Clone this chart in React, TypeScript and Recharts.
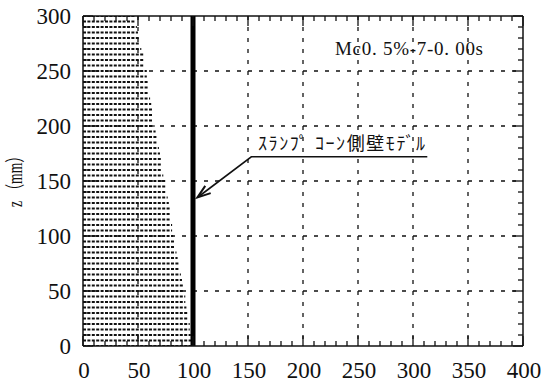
import { ComposedChart, Line, XAxis, YAxis, CartesianGrid, ReferenceLine } from 'recharts'

// 粒子の各行：高さ z (mm) と、その行の右端 x (mm)
const rowZ = [
  0, 5, 10, 15, 20, 25, 30, 35, 40, 45, 50, 55, 60, 65, 70, 75, 80, 85, 90, 95,
  100, 105, 110, 115, 120, 125, 130, 135, 140, 145, 150, 155, 160, 165, 170, 175, 180, 185, 190, 195,
  200, 205, 210, 215, 220, 225, 230, 235, 240, 245, 250, 255, 260, 265, 270, 275, 280, 285, 290, 295,
  300,
]
const rowEdge = [
  99, 99, 98, 97, 97, 96, 95, 94, 93, 93, 91, 91, 90, 89, 88, 88, 86, 85, 84, 84,
  82, 81, 81, 80, 79, 79, 78, 77, 76, 76, 75, 73, 72, 72, 71, 70, 69, 68, 67, 66,
  65, 64, 64, 63, 62, 61, 60, 59, 59, 58, 58, 56, 56, 55, 53, 52, 51, 50, 49, 47,
  47,
]

// スランプコーン側壁モデル（x = 100 の鉛直壁）
const wallX = [100, 100]
const wallZ = [0, 300]

// 注記の引出し線
const leaderX = [313, 153, 104]
const leaderZ = [172, 172, 135]

// 目盛（10 mm ごとの細目盛、50 mm ごとにラベル）
const xTicks = [
  0, 10, 20, 30, 40, 50, 60, 70, 80, 90, 100, 110, 120, 130, 140, 150, 160, 170, 180, 190, 200,
  210, 220, 230, 240, 250, 260, 270, 280, 290, 300, 310, 320, 330, 340, 350, 360, 370, 380, 390, 400,
]
const zTicks = [
  0, 10, 20, 30, 40, 50, 60, 70, 80, 90, 100, 110, 120, 130, 140, 150,
  160, 170, 180, 190, 200, 210, 220, 230, 240, 250, 260, 270, 280, 290, 300,
]
const LABEL_STEP = 50

const rows = rowZ.map((z, i) => [
  { x: 0, z },
  { x: rowEdge[i], z },
])
const wall = wallX.map((x, i) => ({ x, z: wallZ[i] }))
const leader = leaderX.map((x, i) => ({ x, z: leaderZ[i] }))

const W = 544
const H = 386
// 軸の帯は 1px（0 だと軸が描かれない）
const M = { top: 16, right: 21, bottom: 39, left: 82 }
const PLOT_TOP = M.top
const PLOT_RIGHT = W - M.right

const INK = '#111'
const serif = '"Liberation Serif", "Times New Roman", serif'
const frame = { stroke: INK, strokeWidth: 1.5 }

// 下辺：内向き目盛（上辺にも同じ目盛）と数値ラベル
const XTick = (props: any) => {
  const { x, y, payload } = props
  const major = payload.value % LABEL_STEP === 0
  const len = major ? 10 : 5
  return (
    <g>
      <line x1={x} y1={y} x2={x} y2={y - len} stroke={INK} strokeWidth={1.3} />
      <line x1={x} y1={PLOT_TOP} x2={x} y2={PLOT_TOP + len} stroke={INK} strokeWidth={1.3} />
      {major && (
        <text x={x + 1} y={y + 32} textAnchor="middle" fontFamily={serif} fontSize={23} fill={INK}>
          {payload.value}
        </text>
      )}
    </g>
  )
}

// 左辺：内向き目盛（右辺にも同じ目盛）と数値ラベル
const YTick = (props: any) => {
  const { x, y, payload } = props
  const major = payload.value % LABEL_STEP === 0
  const len = major ? 10 : 5
  return (
    <g>
      <line x1={x} y1={y} x2={x + len} y2={y} stroke={INK} strokeWidth={1.3} />
      <line x1={PLOT_RIGHT} y1={y} x2={PLOT_RIGHT - len} y2={y} stroke={INK} strokeWidth={1.3} />
      {major && (
        <text x={x - 12} y={y + 8} textAnchor="end" fontFamily={serif} fontSize={23} fill={INK}>
          {payload.value}
        </text>
      )}
    </g>
  )
}

const ArrowTip = (props: any) => {
  const { cx, cy, index, points } = props
  if (index !== leaderX.length - 1 || cx == null) return <g key={`tip-${index}`} />
  const prev = points?.[index - 1]
  const ang = prev ? Math.atan2(cy - prev.y, cx - prev.x) : Math.atan2(40, -55)
  const len = 14
  const spread = 0.33
  const p1 = [cx - len * Math.cos(ang - spread), cy - len * Math.sin(ang - spread)]
  const p2 = [cx - len * Math.cos(ang + spread), cy - len * Math.sin(ang + spread)]
  return (
    <path
      key={`tip-${index}`}
      d={`M${p1[0]},${p1[1]} L${cx},${cy} L${p2[0]},${p2[1]}`}
      fill="none"
      stroke={INK}
      strokeWidth={2}
    />
  )
}

export default function App() {
  return (
    <div style={{ position: 'absolute', left: 0, top: 0, width: W, height: H, background: '#fff' }}>
      <ComposedChart width={W} height={H} margin={M}>
        <CartesianGrid
          xAxisId="b"
          yAxisId="l"
          horizontalValues={[50, 100, 150, 200, 250]}
          verticalValues={[50, 100, 150, 200, 250, 300, 350]}
          stroke={INK}
          strokeWidth={1.3}
          strokeDasharray="4 7"
        />

        <XAxis
          xAxisId="b"
          dataKey="x"
          type="number"
          domain={[0, 400]}
          ticks={xTicks}
          interval={0}
          allowDataOverflow
          height={1}
          tickSize={0}
          tickMargin={0}
          tickLine={false}
          axisLine={frame}
          tick={XTick}
        />
        <YAxis
          yAxisId="l"
          dataKey="z"
          type="number"
          domain={[0, 300]}
          ticks={zTicks}
          interval={0}
          allowDataOverflow
          width={1}
          tickSize={0}
          tickMargin={0}
          tickLine={false}
          axisLine={frame}
          tick={YTick}
        />

        {/* 枠の上辺と右辺 */}
        <ReferenceLine xAxisId="b" yAxisId="l" y={300} stroke={INK} strokeWidth={1.5} ifOverflow="visible" />
        <ReferenceLine xAxisId="b" yAxisId="l" x={400} stroke={INK} strokeWidth={1.5} ifOverflow="visible" />

        {/* 粒子の行 */}
        {rows.map((row, i) => (
          <Line
            key={`row-${i}`}
            xAxisId="b"
            yAxisId="l"
            data={row}
            dataKey="z"
            type="linear"
            stroke={INK}
            strokeWidth={2.2}
            strokeDasharray="3 1.4"
            dot={false}
            activeDot={false}
            isAnimationActive={false}
          />
        ))}

        {/* 側壁 */}
        <Line
          xAxisId="b"
          yAxisId="l"
          data={wall}
          dataKey="z"
          type="linear"
          stroke="#000"
          strokeWidth={5}
          strokeLinecap="square"
          dot={false}
          activeDot={false}
          isAnimationActive={false}
        />

        {/* 注記の引出し線と矢印 */}
        <Line
          xAxisId="b"
          yAxisId="l"
          data={leader}
          dataKey="z"
          type="linear"
          stroke={INK}
          strokeWidth={1.6}
          dot={ArrowTip}
          activeDot={false}
          isAnimationActive={false}
        />
      </ComposedChart>

      <svg
        width={W}
        height={H}
        style={{ position: 'absolute', left: 0, top: 0, pointerEvents: 'none' }}
      >
        <text
          x={335}
          y={55}
          fontFamily={serif}
          fontSize={19}
          fill={INK}
          textLength={148}
          lengthAdjust="spacing"
        >
          Mc0. 5%-7-0. 00s
        </text>
        <text
          x={258}
          y={150}
          fontFamily={'"Noto Sans CJK JP", sans-serif'}
          fontSize={18}
          fill={INK}
          textLength={167}
          lengthAdjust="spacing"
        >
          ｽﾗﾝﾌﾟ ｺｰﾝ側壁ﾓﾃﾞﾙ
        </text>
        <text
          x={0}
          y={0}
          transform="translate(22 178) rotate(-90)"
          textAnchor="middle"
          fontFamily={'"Liberation Serif", "Noto Sans CJK JP", serif'}
          fontSize={20}
          fill={INK}
          textLength={58}
          lengthAdjust="spacingAndGlyphs"
        >
          z （mm）
        </text>
      </svg>
    </div>
  )
}
